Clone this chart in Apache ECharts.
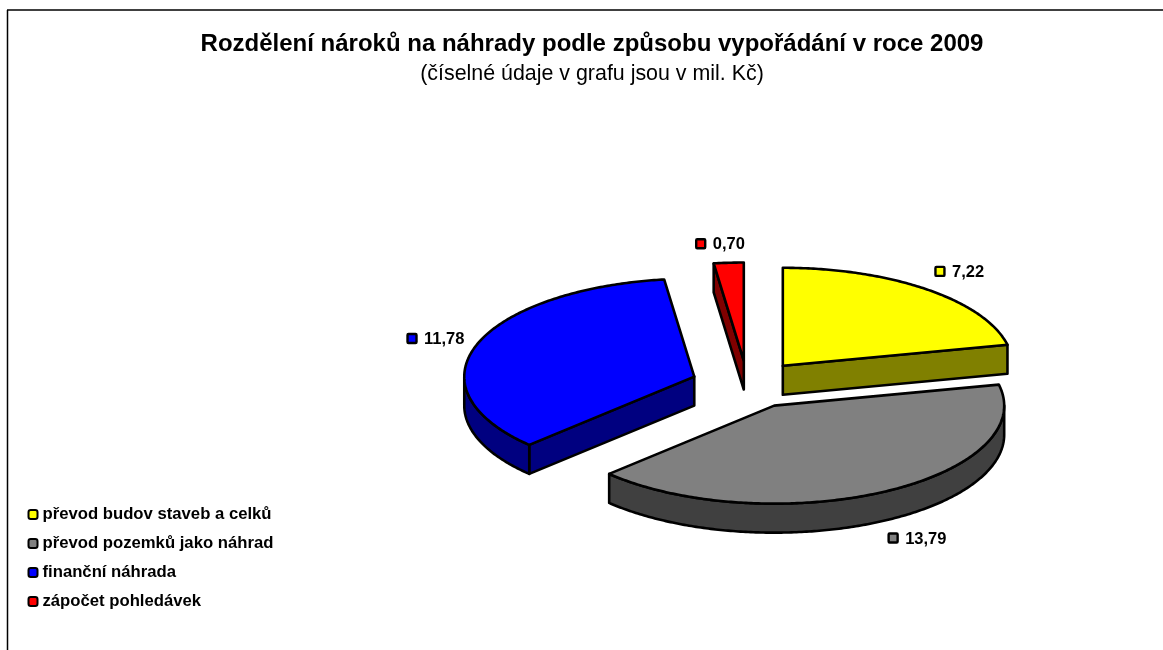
<!DOCTYPE html>
<html>
<head>
<meta charset="utf-8">
<style>
  html, body { margin: 0; padding: 0; background: #fff; }
  #chart { width: 1163px; height: 650px; }
</style>
<script src="https://cdn.jsdelivr.net/npm/echarts@6/dist/echarts.min.js"></script>
</head>
<body>
<div id="chart"></div>
<script>
const categories = ['převod budov staveb a celků', 'převod pozemků jako náhrad', 'finanční náhrada', 'zápočet pohledávek']
const values = [7.22, 13.79, 11.78, 0.70]
const topColors = ['#ffff00', '#808080', '#0000ff', '#ff0000']
const sideColors = ['#808000', '#404040', '#000080', '#800000']

// the flattened pie
const cx = 747.5
const cy = 384.5
const rx = 230
const ry = 98
const depth = 29
const explode = 0.245
// label marker position, relative to the middle of each slice's rim
const labelShift = [[13, -18], [10, 17], [-65, -6], [-28, -19]]

const total = values.reduce((a, b) => a + b, 0)

function renderSlice(i) {
  let before = 0
  for (let j = 0; j < i; j++) before += values[j]
  const start = before / total * Math.PI * 2
  const end = (before + values[i]) / total * Math.PI * 2
  const mid = (start + end) / 2
  const ax = cx + Math.sin(mid) * rx * explode
  const ay = cy - Math.cos(mid) * ry * explode
  const pt = a => [ax + Math.sin(a) * rx, ay - Math.cos(a) * ry]
  const down = p => [p[0], p[1] + depth]
  const arc = (from, to) => {
    const pts = []
    const n = Math.max(2, Math.ceil((to - from) * 90))
    for (let k = 0; k <= n; k++) pts.push(pt(from + (to - from) * k / n))
    return pts
  }
  const line = { stroke: '#000', lineWidth: 2.6, lineJoin: 'round' }
  const faces = []
  const face = (points, fill) => faces.push({ type: 'polygon', shape: { points }, style: Object.assign({ fill }, line) })

  // radial walls, only those that look towards the viewer
  const mp = pt(mid)
  ;[start, end].forEach(a => {
    const p = pt(a)
    const nx = -(p[1] - ay)
    const ny = p[0] - ax
    const side = nx * (mp[0] - ax) + ny * (mp[1] - ay)
    const outY = side > 0 ? -ny : ny
    if (outY > 0.001) face([[ax, ay], p, down(p), [ax, ay + depth]], sideColors[i])
  })
  // outer rim, front half only
  const from = Math.max(start, Math.PI / 2)
  const to = Math.min(end, Math.PI * 1.5)
  if (to > from) {
    const rim = arc(from, to)
    face(rim.concat(rim.map(down).reverse()), sideColors[i])
  }
  // top
  face([[ax, ay]].concat(arc(start, end)), topColors[i])

  // value label
  const front = Math.cos(mid) < 0 ? depth : 0
  const lx = mp[0] + labelShift[i][0]
  const ly = mp[1] + front + labelShift[i][1]
  faces.push({
    type: 'rect',
    shape: { x: lx - 4.5, y: ly - 4.5, width: 9, height: 9, r: 1 },
    style: { fill: topColors[i], stroke: '#000', lineWidth: 2.4 }
  })
  faces.push({
    type: 'text',
    x: lx + 12,
    y: ly + 1,
    style: {
      text: values[i].toFixed(2).replace('.', ','),
      fill: '#000',
      font: 'bold 16.5px "Liberation Sans", Arial, sans-serif',
      textAlign: 'left',
      textVerticalAlign: 'middle'
    }
  })
  return { type: 'group', children: faces }
}

const series = categories.map((name, i) => ({
  name,
  type: 'custom',
  coordinateSystem: 'none',
  legendIcon: 'rect',
  itemStyle: { color: topColors[i], borderColor: '#000', borderWidth: 2.4 },
  data: [values[i]],
  renderItem: () => renderSlice(i)
}))

const myChart = echarts.init(document.getElementById('chart'), null, { renderer: 'canvas' })
const option = {
  animation: false,
  backgroundColor: '#fff',
  title: {
    text: 'Rozdělení nároků na náhrady podle způsobu vypořádání v roce 2009',
    subtext: '(číselné údaje v grafu jsou v mil. Kč)',
    left: 592,
    top: 32,
    textAlign: 'center',
    padding: 0,
    itemGap: 8,
    textStyle: { color: '#000', fontFamily: 'Liberation Sans', fontWeight: 'bold', fontSize: 24 },
    subtextStyle: { color: '#000', fontFamily: 'Liberation Sans', fontSize: 21.4 }
  },
  legend: {
    orient: 'vertical',
    left: 27.5,
    top: 506,
    padding: 0,
    itemWidth: 9,
    itemHeight: 9,
    itemGap: 12,
    selectedMode: false,
    data: categories,
    textStyle: { color: '#000', fontFamily: 'Liberation Sans', fontWeight: 'bold', fontSize: 16.7, lineHeight: 14, padding: [1, 0, 0, 0] }
  },
  graphic: [
    { type: 'line', shape: { x1: 7, y1: 10, x2: 1163, y2: 10 }, style: { stroke: '#000', lineWidth: 1.5 } },
    { type: 'line', shape: { x1: 7.5, y1: 10, x2: 7.5, y2: 650 }, style: { stroke: '#000', lineWidth: 1.5 } }
  ],
  series
}
option && myChart.setOption(option)
</script>
</body>
</html>
